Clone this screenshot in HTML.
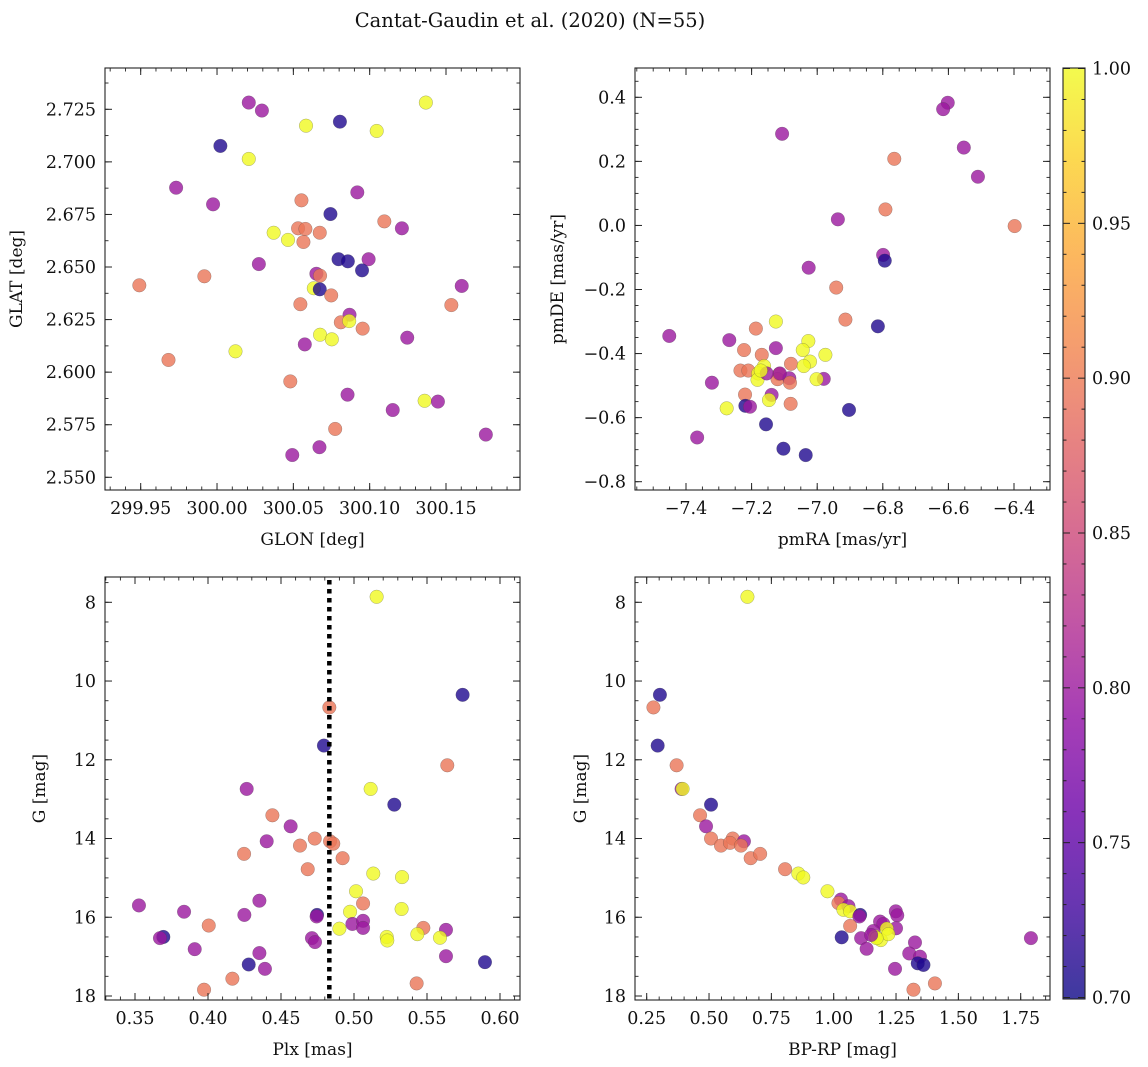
<!DOCTYPE html>
<html><head><meta charset="utf-8">
<style>
html,body{margin:0;padding:0;background:#fff;}
svg{display:block;font-family:"DejaVu Serif","Liberation Serif",serif;}
</style></head>
<body>
<svg id="fig" width="1148" height="1067" viewBox="0 0 1148 1067" xmlns="http://www.w3.org/2000/svg">
<rect width="1148" height="1067" fill="#fff"/>
<text x="530" y="27" font-size="19.5" text-anchor="middle" fill="#111">Cantat-Gaudin et al. (2020) (N=55)</text>
</svg>
<script>
// Panel 1: GLON vs GLAT
const glon=[300.0208,300.0294,300.1368,300.0583,300.0805,300.1046,300.0022,300.0208,299.9732,300.0919,299.9974,300.0553,300.0743,300.1096,300.1211,300.0371,300.0531,300.0579,300.0673,300.0465,300.0566,300.0796,300.0857,300.0993,300.0950,300.0274,300.0651,300.0675,299.9917,299.9491,300.0634,300.0673,300.1603,300.0748,300.0546,300.1535,300.0868,300.0811,300.0866,300.0954,300.0675,300.0752,300.1246,300.0575,300.0121,299.9682,300.0480,300.0855,300.1360,300.1447,300.1151,300.0774,300.1761,300.0671,300.0493];
const glat=[2.7282,2.7244,2.7282,2.7172,2.7191,2.7147,2.7076,2.7014,2.6877,2.6855,2.6798,2.6817,2.6752,2.6717,2.6684,2.6663,2.6684,2.6681,2.6663,2.6629,2.6619,2.6537,2.6527,2.6537,2.6484,2.6514,2.6468,2.6459,2.6456,2.6413,2.6399,2.6394,2.6410,2.6365,2.6323,2.6319,2.6273,2.6237,2.6243,2.6207,2.6178,2.6156,2.6164,2.6132,2.6099,2.6058,2.5956,2.5893,2.5864,2.5860,2.5820,2.5730,2.5703,2.5643,2.5606];
const prob1=[0.80,0.80,1.0,1.0,0.71,1.0,0.71,1.0,0.80,0.80,0.80,0.895,0.71,0.895,0.80,1.0,0.895,0.895,0.895,1.0,0.895,0.71,0.71,0.80,0.71,0.80,0.80,0.895,0.895,0.895,1.0,0.71,0.80,0.895,0.895,0.895,0.80,0.895,1.0,0.895,1.0,1.0,0.80,0.80,1.0,0.895,0.895,0.80,1.0,0.80,0.80,0.895,0.80,0.80,0.80];
// Panel 2: pmRA vs pmDE
const pmra=[-6.602,-6.616,-7.107,-6.553,-6.510,-6.765,-6.792,-6.937,-6.398,-7.026,-6.799,-6.794,-6.942,-6.914,-6.815,-7.126,-7.187,-7.451,-7.268,-7.027,-7.126,-7.044,-7.223,-6.975,-7.169,-7.022,-7.234,-7.210,-7.080,-7.041,-7.162,-7.180,-7.116,-7.121,-7.085,-7.083,-6.980,-7.002,-7.182,-7.321,-7.220,-7.139,-7.147,-7.081,-7.219,-7.205,-7.276,-6.903,-7.156,-7.366,-7.103,-7.035,-7.154,-7.172,-7.114];
const pmde=[0.383,0.363,0.286,0.243,0.152,0.208,0.050,0.019,-0.002,-0.132,-0.092,-0.110,-0.194,-0.294,-0.315,-0.300,-0.322,-0.345,-0.358,-0.361,-0.383,-0.389,-0.389,-0.404,-0.404,-0.425,-0.453,-0.453,-0.432,-0.439,-0.439,-0.462,-0.464,-0.480,-0.477,-0.491,-0.479,-0.480,-0.482,-0.491,-0.528,-0.529,-0.545,-0.557,-0.563,-0.566,-0.571,-0.576,-0.621,-0.662,-0.697,-0.717,-0.462,-0.453,-0.462];
const prob2=[0.80,0.80,0.80,0.80,0.80,0.895,0.895,0.80,0.895,0.80,0.80,0.71,0.895,0.895,0.71,1.0,0.895,0.80,0.80,1.0,0.80,1.0,0.895,1.0,0.895,1.0,0.895,0.895,0.895,1.0,1.0,1.0,0.895,0.895,0.80,0.895,0.80,1.0,1.0,0.80,0.895,0.80,1.0,0.895,0.71,0.80,1.0,0.71,0.71,0.80,0.71,0.71,0.80,1.0,0.80];
// Panel 3: Plx vs G
const plx=[0.5155,0.5744,0.4831,0.4794,0.5639,0.4265,0.5114,0.5276,0.4441,0.4566,0.4402,0.4731,0.4630,0.4836,0.4858,0.4247,0.4922,0.4683,0.5132,0.5329,0.5014,0.5062,0.4352,0.3527,0.3836,0.4249,0.4747,0.4744,0.4973,0.5326,0.4005,0.4989,0.5062,0.5062,0.4900,0.5475,0.5630,0.3694,0.3671,0.4712,0.4733,0.5224,0.5228,0.5434,0.5589,0.3909,0.4352,0.5630,0.4279,0.4390,0.5897,0.4167,0.5429,0.3973];
const gmag3=[7.86,10.35,10.67,11.64,12.14,12.74,12.74,13.14,13.41,13.69,14.07,14.00,14.18,14.07,14.13,14.39,14.50,14.78,14.89,14.98,15.34,15.65,15.58,15.70,15.86,15.94,15.94,15.98,15.86,15.79,16.21,16.17,16.09,16.27,16.29,16.27,16.32,16.50,16.53,16.53,16.63,16.50,16.59,16.43,16.52,16.81,16.91,16.99,17.20,17.31,17.14,17.56,17.68,17.84];
const prob3=[1.0,0.71,0.895,0.71,0.895,0.80,1.0,0.71,0.895,0.80,0.80,0.895,0.895,0.895,0.895,0.895,0.895,0.895,1.0,1.0,1.0,0.895,0.80,0.80,0.80,0.80,0.71,0.80,1.0,1.0,0.895,0.80,0.80,0.80,1.0,0.895,0.80,0.71,0.80,0.80,0.80,1.0,1.0,1.0,1.0,0.80,0.80,0.80,0.71,0.80,0.71,0.895,0.895,0.895];
const plxLine=[0.4831];
// Panel 4: BP-RP vs G
const bprp=[0.654,0.303,0.277,0.294,0.370,0.390,0.394,0.508,0.464,0.488,0.508,0.548,0.595,0.584,0.640,0.628,0.667,0.705,0.805,0.858,0.878,0.975,1.029,1.019,1.059,1.039,1.066,1.106,1.103,1.249,1.255,1.066,1.186,1.199,1.250,1.213,1.032,1.110,1.159,1.166,1.189,1.219,1.172,1.132,1.326,1.303,1.346,1.337,1.360,1.246,1.320,1.406,1.791,1.150];
const gmag4=[7.86,10.35,10.67,11.64,12.14,12.74,12.74,13.14,13.41,13.69,14.00,14.18,14.00,14.11,14.07,14.18,14.50,14.39,14.78,14.89,14.99,15.34,15.55,15.64,15.72,15.81,15.85,15.94,15.98,15.85,15.95,16.22,16.11,16.17,16.28,16.29,16.51,16.53,16.35,16.49,16.58,16.43,16.53,16.80,16.64,16.92,17.00,17.17,17.21,17.31,17.84,17.68,16.53,16.45];
const prob4=[1.0,0.71,0.895,0.71,0.895,0.80,1.0,0.71,0.895,0.80,0.895,0.895,0.895,0.895,0.80,0.895,0.895,0.895,0.895,1.0,1.0,1.0,0.80,0.895,0.80,1.0,1.0,0.71,0.80,0.80,0.80,0.895,0.80,0.80,0.80,1.0,0.71,0.80,0.80,1.0,1.0,1.0,1.0,0.80,0.80,0.80,0.80,0.71,0.71,0.80,0.895,0.895,0.80,0.80];
// colorbar ticks
const cbTicks=["0.70","0.75","0.80","0.85","0.90","0.95","1.00"];

const NS="http://www.w3.org/2000/svg";
const svg=document.getElementById('fig');
function mk(tag,attrs,parent){const e=document.createElementNS(NS,tag);for(const k in attrs)e.setAttribute(k,attrs[k]);(parent||svg).appendChild(e);return e;}
const stops=[[13,8,135],[65,4,157],[106,0,168],[143,13,164],[177,42,144],[204,71,120],[225,100,98],[242,132,75],[252,166,54],[252,206,37],[240,249,33]];
function plasma(t){t=Math.max(0,Math.min(1,t));const f=t*10,i=Math.min(9,Math.floor(f)),r=f-i;const a=stops[i],b=stops[i+1];return 'rgb('+a.map((v,k)=>Math.round(v+(b[k]-v)*r)).join(',')+')';}
function pcol(p){return plasma((p-0.7)/0.3);}
function lin(a,pa,b,pb){const s=(v)=>pa+(v-a)*(pb-pa)/(b-a);s.inv=(px)=>a+(px-pa)*(b-a)/(pb-pa);return s;}

const panels=[
 {name:'glon-glat',fx0:105,fx1:520,fy0:68,fy1:490,xs:lin(299.95,140.7,300.15,446),ys:lin(2.725,109.3,2.550,477.3),
  xt:["299.95","300.00","300.05","300.10","300.15"],xm:0.01,yt:["2.550","2.575","2.600","2.625","2.650","2.675","2.700","2.725"],ym:0.0125,
  xl:"GLON [deg]",yl:"GLAT [deg]",ylx:22,X:glon,Y:glat,P:prob1},
 {name:'pmra-pmde',fx0:635,fx1:1050,fy0:68,fy1:490,xs:lin(-7.4,686,-6.4,1014),ys:lin(0.4,97.3,-0.8,481.7),
  xt:["-7.4","-7.2","-7.0","-6.8","-6.6","-6.4"],xm:0.05,yt:["-0.8","-0.6","-0.4","-0.2","0.0","0.2","0.4"],ym:0.05,
  xl:"pmRA [mas/yr]",yl:"pmDE [mas/yr]",ylx:563,X:pmra,Y:pmde,P:prob2},
 {name:'plx-g',fx0:105,fx1:520,fy0:577,fy1:1000,xs:lin(0.35,135,0.60,500),ys:lin(8,602.3,18,996),
  xt:["0.35","0.40","0.45","0.50","0.55","0.60"],xm:0.01,yt:["8","10","12","14","16","18"],ym:0.5,
  xl:"Plx [mas]",yl:"G [mag]",ylx:45,X:plx,Y:gmag3,P:prob3},
 {name:'bprp-g',fx0:635,fx1:1050,fy0:577,fy1:1000,xs:lin(0.25,646.7,1.75,1020.7),ys:lin(8,602.3,18,996),
  xt:["0.25","0.50","0.75","1.00","1.25","1.50","1.75"],xm:0.05,yt:["8","10","12","14","16","18"],ym:0.5,
  xl:"BP-RP [mag]",yl:"G [mag]",ylx:586,X:bprp,Y:gmag4,P:prob4}
];

function ticksFor(g,p){
 const tk='#222';
 let lo=Math.min(p.xs.inv(p.fx0),p.xs.inv(p.fx1)),hi=Math.max(p.xs.inv(p.fx0),p.xs.inv(p.fx1));
 for(let i=Math.ceil(lo/p.xm-1e-6);i<=Math.floor(hi/p.xm+1e-6);i++){const x=p.xs(i*p.xm);if(x<p.fx0+0.5||x>p.fx1-0.5)continue;
  mk('line',{x1:x,x2:x,y1:p.fy1,y2:p.fy1-3.5,stroke:tk,'stroke-width':0.9},g);mk('line',{x1:x,x2:x,y1:p.fy0,y2:p.fy0+3.5,stroke:tk,'stroke-width':0.9},g);}
 lo=Math.min(p.ys.inv(p.fy0),p.ys.inv(p.fy1));hi=Math.max(p.ys.inv(p.fy0),p.ys.inv(p.fy1));
 for(let i=Math.ceil(lo/p.ym-1e-6);i<=Math.floor(hi/p.ym+1e-6);i++){const y=p.ys(i*p.ym);if(y<p.fy0+0.5||y>p.fy1-0.5)continue;
  mk('line',{x1:p.fx0,x2:p.fx0+3.5,y1:y,y2:y,stroke:tk,'stroke-width':0.9},g);mk('line',{x1:p.fx1,x2:p.fx1-3.5,y1:y,y2:y,stroke:tk,'stroke-width':0.9},g);}
 p.xt.forEach(s=>{const x=p.xs(parseFloat(s));
  mk('line',{x1:x,x2:x,y1:p.fy1,y2:p.fy1-7,stroke:tk,'stroke-width':1},g);mk('line',{x1:x,x2:x,y1:p.fy0,y2:p.fy0+7,stroke:tk,'stroke-width':1},g);
  const t=mk('text',{x:x,y:p.fy1+24,'font-size':17.5,'text-anchor':'middle',fill:'#111'},g);t.textContent=s.replace('-','\u2212');
  
  });
 p.yt.forEach(s=>{const y=p.ys(parseFloat(s));
  mk('line',{x1:p.fx0,x2:p.fx0+7,y1:y,y2:y,stroke:tk,'stroke-width':1},g);mk('line',{x1:p.fx1,x2:p.fx1-7,y1:y,y2:y,stroke:tk,'stroke-width':1},g);
  const t=mk('text',{x:p.fx0-9,y:y+6,'font-size':17.5,'text-anchor':'end',fill:'#111'},g);t.textContent=s.replace('-','\u2212');
  
  });
}

panels.forEach(p=>{
 const g=mk('g',{});
 
 
 const pts=mk('g',{},g);
 
 
 for(let i=0;i<p.X.length;i++){
  const c=mk('circle',{cx:p.xs(p.X[i]),cy:p.ys(p.Y[i]),r:6.8,fill:pcol(p.P[i]),'fill-opacity':0.8,stroke:'#444','stroke-opacity':0.45,'stroke-width':0.5},pts);
  
  
 }
 if(p.name==='plx-g'){
  const x=p.xs(plxLine[0]);
  const l=mk('line',{x1:x,x2:x,y1:p.fy0+3,y2:p.fy1,stroke:'#000','stroke-width':4.5,'stroke-dasharray':'4.5,4.5'},g);
  
  
 }
 const fr=mk('rect',{x:p.fx0,y:p.fy0,width:p.fx1-p.fx0,height:p.fy1-p.fy0,fill:'none',stroke:'#222','stroke-width':1.1},g);
 
 
 ticksFor(g,p);
 const xl=mk('text',{x:(p.fx0+p.fx1)/2,y:p.fy1+55,'font-size':17,'text-anchor':'middle',fill:'#111'},g);xl.textContent=p.xl;
 
 
 const cy=(p.fy0+p.fy1)/2;
 const yl=mk('text',{x:p.ylx,y:cy,'font-size':17,'text-anchor':'middle',fill:'#111',transform:'rotate(-90 '+p.ylx+' '+cy+')'},g);yl.textContent=p.yl;
 
 
});

// colorbar
(function(){
 const g=mk('g',{});
 
 
 const cx0=1063,cx1=1085,cy0=68,cy1=999;
 const cs=lin(0.70,cy1-1.5,1.00,cy0+0.5);
 const defs=mk('defs',{},g);
 const lg=mk('linearGradient',{id:'cbg',x1:0,y1:1,x2:0,y2:0},defs);
 for(let i=0;i<=20;i++){mk('stop',{offset:(i/20),'stop-color':plasma(i/20),'stop-opacity':0.8},lg);}
 const r=mk('rect',{x:cx0,y:cy0,width:cx1-cx0,height:cy1-cy0,fill:'url(#cbg)',stroke:'#222','stroke-width':1.1},g);
 
 
 for(let i=70;i<=100;i++){const y=cs(i/100);const maj=(i%5===0);
  mk('line',{x1:cx1,x2:cx1-(maj?7:3.5),y1:y,y2:y,stroke:'#222','stroke-width':1},g);
  mk('line',{x1:cx0,x2:cx0+(maj?7:3.5),y1:y,y2:y,stroke:'#222','stroke-width':1},g);}
 cbTicks.forEach(s=>{const y=cs(parseFloat(s));
  const t=mk('text',{x:cx1+7,y:y+6,'font-size':17.5,fill:'#111'},g);t.textContent=s;
  
  });
})();
</script>
</body></html>
